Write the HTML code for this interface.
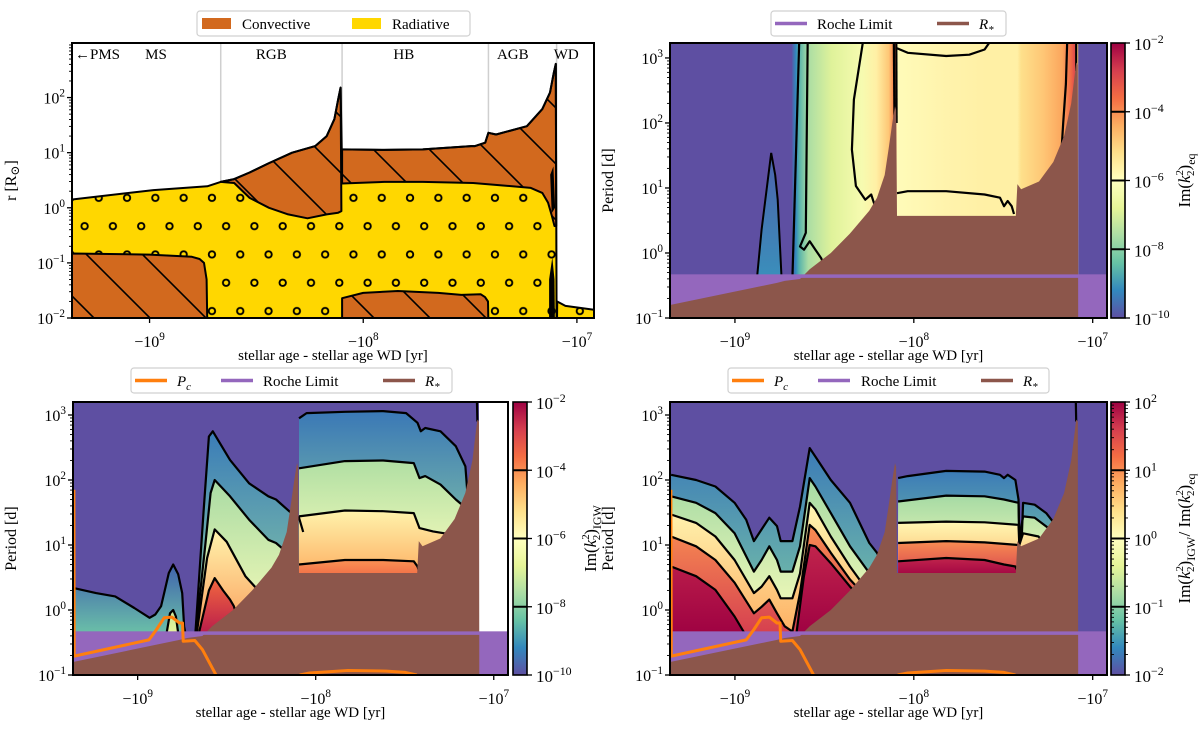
<!DOCTYPE html>
<html><head><meta charset="utf-8">
<style>
body{margin:0;background:#fff;width:1200px;height:727px;overflow:hidden}
svg text{font-family:"Liberation Serif","DejaVu Serif",serif;fill:#000}
</style></head>
<body>
<svg id="fig" width="1200" height="727" viewBox="0 0 1200 727" xmlns="http://www.w3.org/2000/svg">
<defs id="defs">
<pattern id="hatch" patternUnits="userSpaceOnUse" x="0" y="0" width="56" height="56">
<path d="M-4,-4 L60,60 M-4,52 L4,60 M52,-4 L60,4" stroke="#000" stroke-width="1.6"/>
</pattern>
<pattern id="dots" patternUnits="userSpaceOnUse" x="70.45" y="212" width="28.3" height="56.6">
<circle cx="14.15" cy="14.15" r="3.2" fill="none" stroke="#000" stroke-width="1.9"/>
<circle cx="0" cy="42.45" r="3.2" fill="none" stroke="#000" stroke-width="1.9"/>
<circle cx="28.3" cy="42.45" r="3.2" fill="none" stroke="#000" stroke-width="1.9"/>
</pattern>
</defs>
</svg>
<script>
// ---------- shared data ----------
const AGE_MAX = 9.363, AGE_MIN = 6.92;
const ageTicks = [9, 8, 7];
const rocheLogP = -0.33;
const rstar = [[9.363,-0.80],[8.765,-0.46],[8.722,-0.43],[8.636,-0.40],[8.582,-0.25],[8.464,0.0],[8.357,0.3],[8.249,0.65],[8.206,0.85],[8.163,1.2],[8.141,1.6],[8.120,2.0],[8.105,2.26],[8.099,2.2],[8.094,0.57],[7.43,0.57],[7.421,1.06],[7.40,0.98],[7.30,1.1],[7.22,1.4],[7.16,1.8],[7.12,2.3],[7.10,2.75],[7.092,2.93],[7.083,2.9],[7.081,-1.2],[9.363,-1.2]];
const pcCurve1 = [[9.358,1.85],[9.356,-0.71],[8.937,-0.46],[8.894,-0.30],[8.851,-0.12],[8.808,-0.11],[8.765,-0.2],[8.748,-0.2],[8.744,-0.48],[8.679,-0.47],[8.636,-0.61],[8.55,-1.05]];
const pcCurve2 = [[8.09,-1.0],[8.034,-0.97],[7.819,-0.93],[7.604,-0.94],[7.496,-0.96],[7.432,-1.0]];

// ---------- top-left: structure ----------
const surface = [[9.363,0.15],[8.982,0.32],[8.730,0.39],[8.667,0.47],[8.604,0.52],[8.532,0.64],[8.441,0.81],[8.333,1.0],[8.225,1.12],[8.171,1.30],[8.135,1.61],[8.117,1.97],[8.106,2.18],[8.101,1.06],[7.901,1.05],[7.721,1.06],[7.495,1.12],[7.477,1.12],[7.429,1.18],[7.414,1.36],[7.378,1.33],[7.234,1.48],[7.162,1.79],[7.126,2.09],[7.108,2.45],[7.099,2.61],[7.095,-2.1],[9.363,-2.1]];
const wdBody = [[7.093,-2.1],[7.092,-1.7],[7.054,-1.78],[6.92,-1.85],[6.92,-2.1]];
const rgbConv = [[8.667,0.47],[8.604,0.52],[8.532,0.64],[8.441,0.81],[8.333,1.0],[8.225,1.12],[8.171,1.30],[8.135,1.61],[8.117,1.97],[8.106,2.18],[8.102,-0.06],[8.117,-0.09],[8.171,-0.12],[8.261,-0.19],[8.351,-0.12],[8.441,0.0],[8.532,0.18],[8.604,0.45]];
const hbConv = [[8.099,1.06],[7.901,1.05],[7.721,1.06],[7.495,1.12],[7.477,1.12],[7.429,1.18],[7.414,1.36],[7.378,1.33],[7.234,1.48],[7.162,1.79],[7.126,2.09],[7.108,2.45],[7.099,2.61],[7.097,-0.33],[7.105,-0.33],[7.117,-0.15],[7.135,0.09],[7.162,0.27],[7.216,0.36],[7.360,0.41],[7.486,0.45],[7.721,0.47],[7.901,0.47],[8.099,0.44]];
const msCore = [[9.363,-2.1],[9.363,-0.83],[9.0,-0.85],[8.802,-0.89],[8.766,-0.93],[8.745,-1.0],[8.733,-1.3],[8.730,-2.1]];
const hbCore = [[8.099,-2.1],[8.099,-1.64],[8.0,-1.545],[7.838,-1.51],[7.649,-1.545],[7.541,-1.58],[7.45,-1.57],[7.43,-1.62],[7.416,-1.7],[7.414,-2.1]];
const agbPulseLow = [[7.13,-2.1],[7.13,-1.3],[7.115,-0.9],[7.105,-1.3],[7.103,-2.1]];
const agbPulseHigh = [[7.125,0.6],[7.11,0.75],[7.102,0.0],[7.118,-0.1]];
const phaseBounds = [8.667, 8.099, 7.414, 7.095];
const phaseNames = ["\u2190PMS","MS","RGB","HB","AGB","WD"];
const phaseLabelU = [9.19, 8.97, 8.43, 7.81, 7.30, 7.05];

// ---------- top-right: Im(k2)eq ----------
const trStopsU = [8.68,8.66,8.64,8.59,8.46,8.29,8.21,8.14,8.116,8.103,8.094,7.82,7.60,7.421,7.40,7.28,7.17,7.12,7.099,7.09,7.081];
const trStopsV = [-9.8,-9.2,-8.6,-7.6,-6.9,-6.3,-5.6,-4.8,-4.0,-3.3,-5.9,-5.7,-5.6,-5.6,-5.2,-4.8,-4.3,-3.5,-3.0,-5.0,-5.0];
const trSpike = [[8.877,-0.4],[8.851,0.36],[8.797,1.54],[8.775,1.2],[8.761,0.82],[8.739,-0.4]];
const trContours = [
 [[8.679,-0.4],[8.64,3.3]],
 [[8.593,3.3],[8.604,0.31],[8.636,0.10],[8.614,0.05],[8.582,0.18],[8.550,0.05],[8.518,-0.08],[8.50,-0.2]],
 [[8.281,3.3],[8.335,2.36],[8.346,1.59],[8.324,1.03],[8.271,0.82],[8.238,0.9],[8.217,0.72],[8.2,0.6]],
 [[8.112,3.3],[8.108,2.0]],
 [[8.098,3.3],[8.096,2.0]],
 [[8.094,3.15],[8.034,3.08],[7.819,3.03],[7.690,3.05],[7.604,3.13],[7.561,3.3]],
 [[8.094,0.92],[8.034,0.95],[7.819,0.95],[7.604,0.90],[7.518,0.85],[7.496,0.72],[7.475,0.80],[7.453,0.72],[7.44,0.6]],
 [[7.142,3.3],[7.150,2.6],[7.165,2.0],[7.174,1.6]],
 [[7.092,3.3],[7.092,2.8]]
];

// ---------- bottom-left: Im(k2)IGW ----------
const blLobe = [[9.362,0.34],[9.234,0.26],[9.126,0.21],[9.019,0.03],[8.933,-0.12],[8.901,-0.07],[8.868,0.06],[8.847,0.31],[8.825,0.57],[8.800,0.70],[8.772,0.55],[8.750,0.26],[8.739,-0.25],[8.729,-0.4]];
const blLobeInner = [[8.84,-0.4],[8.818,-0.05],[8.80,0.0],[8.785,-0.1],[8.77,-0.4]];
const blW1 = [[8.685,-0.4],[8.675,-0.33],[8.63,1.5],[8.600,2.67],[8.578,2.75],[8.481,2.31],[8.374,1.95],[8.266,1.75],[8.223,1.70],[8.137,1.49],[8.094,1.42],[8.07,1.2]];
const blW2 = [[8.675,-0.4],[8.62,1.0],[8.590,1.8],[8.567,2.0],[8.481,1.75],[8.374,1.39],[8.266,1.08],[8.223,1.03],[8.180,0.93],[8.15,0.85]];
const blW3 = [[8.67,-0.4],[8.61,0.8],[8.567,1.24],[8.50,1.05],[8.395,0.52],[8.309,0.26],[8.28,0.1]];
const blW4 = [[8.66,-0.4],[8.60,0.3],[8.567,0.49],[8.52,0.3],[8.481,0.16],[8.460,0.06],[8.43,-0.2]];
const blH1 = [[8.094,2.95],[8.051,3.03],[7.836,3.05],[7.621,3.06],[7.492,3.03],[7.428,2.88],[7.410,2.75],[7.385,2.80],[7.299,2.75],[7.213,2.52],[7.159,2.21],[7.148,1.8],[7.14,1.5]];
const blH2 = [[8.094,2.18],[7.836,2.29],[7.621,2.30],[7.449,2.26],[7.417,2.03],[7.385,2.06],[7.299,1.93],[7.213,1.70],[7.170,1.6],[7.16,1.4]];
const blH3 = [[8.094,1.44],[7.836,1.53],[7.621,1.52],[7.449,1.49],[7.417,1.26],[7.341,1.21],[7.277,1.18],[7.25,1.1]];
const blH4 = [[8.094,0.70],[7.836,0.77],[7.621,0.77],[7.449,0.75],[7.428,0.67],[7.42,0.6]];
const blPeakLine = [[7.095,3.3],[7.092,2.9]];
const blBlankFrom = 7.083;

// ---------- bottom-right: ratio ----------
const brL1 = [[9.357,2.08],[9.217,2.0],[9.109,1.9],[9.002,1.65],[8.937,1.39],[8.894,1.06],[8.851,1.24],[8.808,1.42],[8.765,1.29],[8.744,1.06],[8.679,1.06],[8.636,1.59],[8.582,2.49],[8.550,2.36],[8.464,2.0],[8.357,1.65],[8.249,1.03],[8.206,0.88],[8.15,0.6]];
const brL2 = [[9.357,1.75],[9.217,1.65],[9.109,1.49],[9.002,1.18],[8.894,0.59],[8.851,0.77],[8.808,0.98],[8.765,0.77],[8.744,0.59],[8.679,0.59],[8.636,0.98],[8.582,2.03],[8.550,1.9],[8.464,1.49],[8.357,0.98],[8.249,0.57],[8.2,0.3]];
const brL3 = [[9.357,1.47],[9.217,1.34],[9.109,1.13],[9.002,0.77],[8.894,0.26],[8.851,0.36],[8.808,0.52],[8.765,0.31],[8.744,0.18],[8.679,0.18],[8.636,0.56],[8.582,1.65],[8.550,1.55],[8.464,1.13],[8.357,0.67],[8.249,0.26],[8.2,0.0]];
const brL4 = [[9.357,1.13],[9.217,0.98],[9.109,0.77],[9.002,0.42],[8.894,-0.05],[8.851,0.05],[8.808,0.16],[8.765,-0.05],[8.722,-0.25],[8.679,-0.33],[8.636,0.26],[8.582,1.31],[8.550,1.23],[8.464,0.88],[8.357,0.47],[8.249,0.15],[8.2,-0.1]];
const brL5 = [[9.357,0.67],[9.217,0.52],[9.109,0.31],[9.002,-0.1],[8.937,-0.4],[8.658,-0.4],[8.615,0.51],[8.582,1.0],[8.550,0.98],[8.464,0.72],[8.357,0.36],[8.249,0.05],[8.2,-0.2]];
const brH1 = [[8.088,2.03],[8.034,2.06],[7.819,2.14],[7.604,2.13],[7.518,2.08],[7.496,2.03],[7.475,2.08],[7.432,2.0],[7.415,1.70],[7.41,1.1],[7.395,1.2],[7.389,1.65],[7.324,1.62],[7.260,1.49],[7.217,1.34],[7.206,1.24],[7.19,1.0]];
const brH2 = [[8.088,1.67],[7.819,1.76],[7.604,1.75],[7.496,1.70],[7.415,1.65],[7.41,1.1],[7.389,1.44],[7.324,1.42],[7.238,1.24],[7.22,1.1]];
const brH3 = [[8.088,1.34],[7.819,1.36],[7.604,1.35],[7.415,1.31],[7.41,1.0],[7.389,1.18],[7.303,1.13],[7.28,1.05]];
const brH4 = [[8.088,1.03],[7.819,1.06],[7.604,1.04],[7.415,1.0],[7.40,0.9]];
const brH5 = [[8.088,0.75],[7.819,0.8],[7.604,0.77],[7.496,0.70],[7.432,0.67],[7.42,0.6]];

// ---------- colour map ----------
const SPEC = ["#5e4fa2","#3288bd","#66c2a5","#abdda4","#e6f598","#ffffbf","#fee08b","#fdae61","#f46d43","#d53e4f","#9e0142"];
function hex2rgb(h){return [parseInt(h.substr(1,2),16),parseInt(h.substr(3,2),16),parseInt(h.substr(5,2),16)];}
function cmap(t){t=Math.max(0,Math.min(1,t));const f=t*10,i=Math.min(9,Math.floor(f)),r=f-i;const a=hex2rgb(SPEC[i]),b=hex2rgb(SPEC[i+1]);return 'rgb('+a.map((v,k)=>Math.round(v+(b[k]-v)*r)).join(',')+')';}

const NS = "http://www.w3.org/2000/svg";
const svg = document.getElementById('fig');
const defs = document.getElementById('defs');
let gid = 0;
function mk(tag, attrs, parent){const e=document.createElementNS(NS,tag);for(const k in attrs)e.setAttribute(k,attrs[k]);parent.appendChild(e);return e;}
function mkX(p){return u=>p.x0+(AGE_MAX-u)/(AGE_MAX-AGE_MIN)*(p.x1-p.x0);}
function mkY(p){return v=>p.y1-(v-p.lo)/(p.hi-p.lo)*(p.y1-p.y0);}
function pathOf(pts,X,Y,close){return pts.map((q,i)=>(i?'L':'M')+X(q[0]).toFixed(1)+','+Y(q[1]).toFixed(1)).join('')+(close?'Z':'');}
function vgrad(c0,c1){const id='g'+(gid++);const g=mk('linearGradient',{id:id,x1:0,y1:0,x2:0,y2:1},defs);mk('stop',{offset:0,'stop-color':c0},g);mk('stop',{offset:1,'stop-color':c1},g);return 'url(#'+id+')';}

const panels = {
 tl:{x0:72,x1:594,y0:43,y1:318,lo:-2,hi:2.99},
 tr:{x0:670,x1:1107,y0:43,y1:318,lo:-1,hi:3.23},
 bl:{x0:73,x1:508,y0:402,y1:675,lo:-1,hi:3.2},
 br:{x0:670,x1:1107,y0:402,y1:675,lo:-1,hi:3.2}
};

function makeClip(p,name){const id='clip'+name;const c=mk('clipPath',{id:id},defs);mk('rect',{x:p.x0,y:p.y0,width:p.x1-p.x0,height:p.y1-p.y0},c);return 'url(#'+id+')';}

function sup10(parent,x,y,exp,anchor,neg,fs){
 const t=mk('text',{x:x,y:y,'font-size':fs||16,'text-anchor':anchor},parent);
 
 
 t.appendChild(document.createTextNode((neg?'\u2212':'')+'10'));
 const s=mk('tspan',{dy:-7,'font-size':(fs||16)*0.7},t);
 s.textContent=(exp<0?'\u2212':'')+Math.abs(exp);
 return t;
}

function drawAxes(p,name,ylabel,ylx){
 const g=mk('g',{},svg);
 
 
 const X=mkX(p),Y=mkY(p);
 mk('rect',{x:p.x0,y:p.y0,width:p.x1-p.x0,height:p.y1-p.y0,fill:'none',stroke:'#000','stroke-width':2},g);
 ageTicks.forEach(a=>{
  const x=X(a);
  const tk=mk('line',{x1:x,x2:x,y1:p.y1,y2:p.y1+5,stroke:'#000','stroke-width':1.3},g);
  
  
  sup10(g,x,p.y1+29,a,'middle',true,16);
 });
 for(let e=Math.ceil(p.lo);e<=Math.floor(p.hi);e++){
  const y=Y(e);
  const tk=mk('line',{x1:p.x0-5,x2:p.x0,y1:y,y2:y,stroke:'#000','stroke-width':1.3},g);
  
  
  sup10(g,p.x0-7,y+6,e,'end',false,16);
 }
 for(let e=Math.floor(p.lo);e<=Math.ceil(p.hi);e++){
  for(let k=2;k<10;k++){const v=e+Math.log10(k);if(v<=p.lo||v>=p.hi)continue;const y=Y(v);
   const m=mk('line',{x1:p.x0-3,x2:p.x0,y1:y,y2:y,stroke:'#000','stroke-width':0.9},g);
   
   }
 }
 const xl=mk('text',{x:(p.x0+p.x1)/2,y:p.y1+42,'font-size':15,'text-anchor':'middle'},g);
 
 
 xl.textContent='stellar age - stellar age WD [yr]';
 const cy=(p.y0+p.y1)/2;
 const yl=mk('text',{x:ylx,y:cy,'font-size':16,'text-anchor':'middle',transform:'rotate(-90 '+ylx+' '+cy+')'},g);
 
 
 if(ylabel==='r'){yl.appendChild(document.createTextNode('r [R'));const s=mk('tspan',{dy:3,'font-size':12},yl);s.textContent='\u2299';const s2=mk('tspan',{dy:-3},yl);s2.textContent=']';}
 else yl.textContent=ylabel;
}

function legend(x,y,w,items,name){
 const g=mk('g',{},svg);
 
 
 mk('rect',{x:x,y:y,width:w,height:25,rx:3,fill:'#fff',stroke:'#d0d0d0','stroke-width':1.2},g);
 items.forEach(it=>{
  let sw;
  if(it.kind==='patch'){sw=mk('rect',{x:it.sx,y:y+7,width:29,height:11,fill:it.color},g);}
  else {sw=mk('line',{x1:it.sx,x2:it.sx+32,y1:y+12.5,y2:y+12.5,stroke:it.color,'stroke-width':3.5},g);}
  
  
  const t=mk('text',{x:it.tx,y:y+18,'font-size':15},g);
  
  
  if(it.label==='R*'){const a=mk('tspan',{'font-style':'italic'},t);a.textContent='R';const b=mk('tspan',{dy:4,'font-size':11,'font-style':'italic'},t);b.textContent='*';}
  else if(it.label==='Pc'){const a=mk('tspan',{'font-style':'italic'},t);a.textContent='P';const b=mk('tspan',{dy:4,'font-size':11,'font-style':'italic'},t);b.textContent='c';}
  else t.textContent=it.label;
 });
}

function colorbar(x0,x1,y0,y1,lo,hi,step,lines,minor,name,labelParts,lx){
 const g=mk('g',{},svg);
 
 
 const id='cb'+(gid++);
 const lg=mk('linearGradient',{id:id,x1:0,y1:1,x2:0,y2:0},defs);
 for(let i=0;i<=20;i++)mk('stop',{offset:i/20,'stop-color':cmap(i/20)},lg);
 mk('rect',{x:x0,y:y0,width:x1-x0,height:y1-y0,fill:'url(#'+id+')',stroke:'#000','stroke-width':1.6},g);
 const Yc=v=>y1-(v-lo)/(hi-lo)*(y1-y0);
 lines.forEach(v=>{const l=mk('line',{x1:x0,x2:x1,y1:Yc(v),y2:Yc(v),stroke:'#000','stroke-width':2},g);
  
  });
 for(let v=lo;v<=hi;v+=step){const y=Yc(v);mk('line',{x1:x1,x2:x1+5,y1:y,y2:y,stroke:'#000','stroke-width':1.3},g);sup10(g,x1+9,y+7,v,'start',false,17);}
 if(minor){for(let e=lo;e<hi;e++)for(let k=2;k<10;k++){const y=Yc(e+Math.log10(k));mk('line',{x1:x1,x2:x1+3,y1:y,y2:y,stroke:'#000','stroke-width':0.9},g);mk('line',{x1:x0,x2:x0+3,y1:y,y2:y,stroke:'#000','stroke-width':0.9},g);}}
 const cy=(y0+y1)/2;
 const t=mk('text',{x:lx,y:cy,'font-size':17,'text-anchor':'middle',transform:'rotate(-90 '+lx+' '+cy+')'},g);
 
 
 labelParts.forEach((part,pi)=>{
  if(pi>0){const sp=mk('tspan',{},t);sp.textContent='  /  ';}
  const a=mk('tspan',{},t);a.textContent='Im(';
  const k=mk('tspan',{'font-style':'italic'},t);k.textContent='k';
  const s1=mk('tspan',{dy:-7,'font-size':11},t);s1.textContent='2';
  const s2=mk('tspan',{dx:-6,dy:11,'font-size':11},t);s2.textContent='2';
  const c=mk('tspan',{dy:-4},t);c.textContent=')';
  const sub=mk('tspan',{dy:5,'font-size':12},t);sub.textContent=part;
  const rst=mk('tspan',{dy:-5,'font-size':1},t);rst.textContent=' ';
 });
}

function line(g,pts,X,Y,color,w,name){const e=mk('path',{d:pathOf(pts,X,Y,false),fill:'none',stroke:color,'stroke-width':w,'stroke-linejoin':'round'},g);
 
 return e;}

function bandRegion(g,conts,bands,floor,X,Y,name){
 conts.forEach((c,i)=>{
  const pts=c.concat([[c[c.length-1][0],floor],[c[0][0],floor]]);
  const e=mk('path',{d:pathOf(pts,X,Y,true),fill:vgrad(bands[i][0],bands[i][1])},g);
  
  
 });
}

function commonOverlay(g,p,X,Y,withPc){
 const rr=mk('rect',{x:p.x0,y:Y(rocheLogP),width:p.x1-p.x0,height:p.y1-Y(rocheLogP),fill:'#9467bd'},g);
 
 
 const b=mk('path',{d:pathOf(rstar,X,Y,true),fill:'#8c564b'},g);
 
 
 const rl=mk('line',{x1:p.x0,x2:p.x1,y1:Y(rocheLogP)+1.7,y2:Y(rocheLogP)+1.7,stroke:'#9467bd','stroke-width':3.5},g);
 
 
 if(withPc){line(g,pcCurve1,X,Y,'#ff7f0e',3,'pc-curve');line(g,pcCurve2,X,Y,'#ff7f0e',3,'pc-curve');}
}

// ================= TOP LEFT =================
(function(){
 const p=panels.tl,X=mkX(p),Y=mkY(p);
 const g=mk('g',{'clip-path':makeClip(p,'tl')},svg);
 
 
 mk('rect',{x:p.x0,y:p.y0,width:p.x1-p.x0,height:p.y1-p.y0,fill:'#fff'},g);
 phaseBounds.forEach(u=>{const l=mk('line',{x1:X(u),x2:X(u),y1:p.y0,y2:p.y1,stroke:'#cfcfcf','stroke-width':1.5},g);
  
  });
 [surface,wdBody].forEach(s=>{
  const a=mk('path',{d:pathOf(s,X,Y,true),fill:'#ffd700'},g);
  
  
  mk('path',{d:pathOf(s,X,Y,true),fill:'url(#dots)'},g);
 });
 [rgbConv,hbConv,msCore,hbCore].forEach(s=>{
  const a=mk('path',{d:pathOf(s,X,Y,true),fill:'#d2691e'},g);
  
  
  mk('path',{d:pathOf(s,X,Y,true),fill:'url(#hatch)'},g);
 });
 [surface,wdBody,rgbConv,hbConv,msCore,hbCore].forEach(s=>{
  const a=mk('path',{d:pathOf(s,X,Y,true),fill:'none',stroke:'#000','stroke-width':2,'stroke-linejoin':'round'},g);
  
  
 });
 [agbPulseLow,agbPulseHigh].forEach(s=>{const a=mk('path',{d:pathOf(s,X,Y,true),fill:'#000'},g);
  
  });
 phaseNames.forEach((n,i)=>{
  const t=mk('text',{x:X(phaseLabelU[i]),y:p.y0+16,'font-size':15,'text-anchor':i===0?'start':'middle'},svg);
  if(i===0)t.setAttribute('x',p.x0+3);
  
  
  t.textContent=n;
 });
 drawAxes(p,'structure','r',16);
 legend(197,11,273,[{kind:'patch',sx:202,tx:242,color:'#d2691e',label:'Convective'},{kind:'patch',sx:352,tx:392,color:'#ffd700',label:'Radiative'}],'structure-legend');
})();

// ================= TOP RIGHT =================
(function(){
 const p=panels.tr,X=mkX(p),Y=mkY(p);
 const g=mk('g',{'clip-path':makeClip(p,'tr')},svg);
 
 
 mk('rect',{x:p.x0,y:p.y0,width:p.x1-p.x0,height:p.y1-p.y0,fill:'#5e4fa2'},g);
 const id='trg';
 const xa=X(trStopsU[0]),xb=X(trStopsU[trStopsU.length-1]);
 const lg=mk('linearGradient',{id:id,gradientUnits:'userSpaceOnUse',x1:xa,y1:0,x2:xb,y2:0},defs);
 trStopsU.forEach((u,i)=>mk('stop',{offset:((X(u)-xa)/(xb-xa)).toFixed(4),'stop-color':cmap((trStopsV[i]+10)/8)},lg));
 const hm=mk('rect',{x:xa,y:p.y0,width:xb-xa,height:p.y1-p.y0,fill:'url(#trg)'},g);
 
 
 const sp=mk('path',{d:pathOf(trSpike,X,Y,true),fill:vgrad('#4d62ab','#3a8fbb'),stroke:'#000','stroke-width':2},g);
 
 
 trContours.forEach(c=>line(g,c,X,Y,'#000',2.2,'contour-line'));
 commonOverlay(g,p,X,Y,false);
 drawAxes(p,'k2-eq','Period [d]',613);
 colorbar(1111,1125,p.y0,p.y1,-10,-2,2,[-8,-6,-4],false,'k2-eq-colorbar',['eq'],1190);
 legend(771,11,235,[{kind:'line',sx:775,tx:817,color:'#9467bd',label:'Roche Limit'},{kind:'line',sx:937,tx:979,color:'#8c564b',label:'R*'}],'k2-eq-legend');
})();

// ================= BOTTOM LEFT =================
(function(){
 const p=panels.bl,X=mkX(p),Y=mkY(p);
 const g=mk('g',{'clip-path':makeClip(p,'bl')},svg);
 
 
 mk('rect',{x:p.x0,y:p.y0,width:p.x1-p.x0,height:p.y1-p.y0,fill:'#5e4fa2'},g);
 const wb=mk('rect',{x:X(blBlankFrom),y:p.y0,width:p.x1-X(blBlankFrom),height:p.y1-p.y0,fill:'#fff'},g);
 
 
 bandRegion(g,[blLobe,blLobeInner],[['#4063ad','#6cc3a8'],['#c4e79e','#eaf69b']],-0.4,X,Y,'lobe');
 bandRegion(g,[blW1,blW2,blW3,blW4],[['#3a7cb8','#90d1a4'],['#a9dba4','#fbfdb9'],['#fff4ad','#fb9a58'],['#f2683f','#b8194b']],-0.4,X,Y,'rgb-wedge');
 bandRegion(g,[blH1,blH2,blH3,blH4],[['#3a78b6','#90d1a4'],['#b0dfa3','#fefebe'],['#fff3ac','#fdad60'],['#f99255','#f26a44']],0.5,X,Y,'hb-block');
 [blLobe,blLobeInner,blW1,blW2,blW3,blW4,blH1,blH2,blH3,blH4,blPeakLine].forEach(c=>line(g,c,X,Y,'#000',2.2,'contour-line'));
 commonOverlay(g,p,X,Y,true);
 drawAxes(p,'k2-igw','Period [d]',16);
 colorbar(513,527,p.y0,p.y1,-10,-2,2,[-8,-6,-4],false,'k2-igw-colorbar',['IGW'],596);
 legend(131,368,321,[{kind:'line',sx:135,tx:177,color:'#ff7f0e',label:'Pc'},{kind:'line',sx:221,tx:263,color:'#9467bd',label:'Roche Limit'},{kind:'line',sx:383,tx:425,color:'#8c564b',label:'R*'}],'k2-igw-legend');
})();

// ================= BOTTOM RIGHT =================
(function(){
 const p=panels.br,X=mkX(p),Y=mkY(p);
 const g=mk('g',{'clip-path':makeClip(p,'br')},svg);
 
 
 mk('rect',{x:p.x0,y:p.y0,width:p.x1-p.x0,height:p.y1-p.y0,fill:'#5e4fa2'},g);
 bandRegion(g,[brL1,brL2,brL3,brL4,brL5],[['#3b7bb7','#80cca5'],['#a5daa4','#fdfebc'],['#fff8b4','#fdae61'],['#f88d52','#d53e4f'],['#c1244c','#9e0142']],-0.4,X,Y,'early-region');
 bandRegion(g,[brH1,brH2,brH3,brH4,brH5],[['#3b7bb7','#80cca5'],['#a5daa4','#fdfebc'],['#fff8b4','#fdae61'],['#f88d52','#d53e4f'],['#c1244c','#9e0142']],0.5,X,Y,'hb-block');
 [brL1,brL2,brL3,brL4,brL5,brH1,brH2,brH3,brH4,brH5,blPeakLine].forEach(c=>line(g,c,X,Y,'#000',2.2,'contour-line'));
 commonOverlay(g,p,X,Y,true);
 drawAxes(p,'k2-ratio','Period [d]',613);
 colorbar(1111,1125,p.y0,p.y1,-2,2,1,[-1,0,1],true,'k2-ratio-colorbar',['IGW','eq'],1190);
 legend(728,368,321,[{kind:'line',sx:732,tx:774,color:'#ff7f0e',label:'Pc'},{kind:'line',sx:818,tx:861,color:'#9467bd',label:'Roche Limit'},{kind:'line',sx:981,tx:1023,color:'#8c564b',label:'R*'}],'k2-ratio-legend');
})();
</script>
</body></html>
